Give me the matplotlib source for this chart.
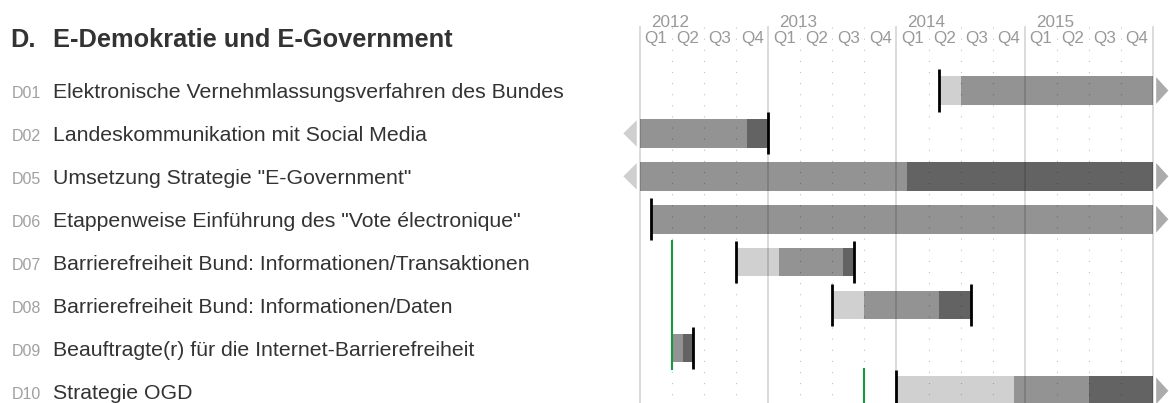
import matplotlib
matplotlib.use("Agg")
import matplotlib.pyplot as plt
from matplotlib.patches import Polygon
import matplotlib.transforms as mtransforms

plt.rcParams['font.family'] = ['Liberation Sans', 'DejaVu Sans']

title_code = "D."
title_text = "E-Demokratie und E-Government"
codes = ["D01", "D02", "D05", "D06", "D07", "D08", "D09", "D10"]
labels = ["Elektronische Vernehmlassungsverfahren des Bundes",
          "Landeskommunikation mit Social Media",
          "Umsetzung Strategie \"E-Government\"",
          "Etappenweise Einführung des \"Vote électronique\"",
          "Barrierefreiheit Bund: Informationen/Transaktionen",
          "Barrierefreiheit Bund: Informationen/Daten",
          "Beauftragte(r) für die Internet-Barrierefreiheit",
          "Strategie OGD"]
years = [2012, 2013, 2014, 2015]
quarters = ["Q1", "Q2", "Q3", "Q4"]

# segments per row: (start, end, phase) phase 0=light, 1=mid, 2=dark
segments = [
    [(2014.333, 2014.5, 0), (2014.5, 2016.0, 1)],
    [(2012.0, 2012.833, 1), (2012.833, 2013.0, 2)],
    [(2012.0, 2014.083, 1), (2014.083, 2016.0, 2)],
    [(2012.083, 2016.0, 1)],
    [(2012.75, 2013.083, 0), (2013.083, 2013.583, 1), (2013.583, 2013.667, 2)],
    [(2013.5, 2013.75, 0), (2013.75, 2014.333, 1), (2014.333, 2014.583, 2)],
    [(2012.25, 2012.333, 1), (2012.333, 2012.417, 2)],
    [(2014.0, 2014.917, 0), (2014.917, 2015.5, 1), (2015.5, 2016.0, 2)],
]
# black start/end markers
markers = [[2014.333], [2013.0], [], [2012.083], [2012.75, 2013.667],
           [2013.5, 2014.583], [2012.417], [2014.0]]
left_arrow = [False, True, True, False, False, False, False, False]
right_arrow = [True, False, True, True, False, False, False, True]
# green lines: x, first row, last row
green_x = [2012.25, 2013.75]
green_rows = [(4, 6), (7, 7)]

phase_colors = ["#d0d0d0", "#939393", "#636363"]

fig = plt.figure(figsize=(11.69, 4.03), dpi=100)
ax = fig.add_axes([620 / 1169, 0, 549 / 1169, 1])
ax.set_xlim(2011.844, 2016.125)
ax.set_ylim(7.284, -2.110)
ax.axis("off")

bh = 0.335
for i, segs in enumerate(segments):
    for s, e, p in segs:
        ax.fill_between([s, e], i - bh, i + bh, color=phase_colors[p], lw=0, zorder=2)
    if left_arrow[i]:
        s0 = segs[0][0]
        ax.add_patch(Polygon([(s0 - 0.025, i - 0.31), (s0 - 0.025, i + 0.31), (s0 - 0.13, i)],
                             closed=True, color="#cfcfcf", lw=0, zorder=2))
    if right_arrow[i]:
        e0 = segs[-1][1]
        ax.add_patch(Polygon([(e0 + 0.025, i - 0.31), (e0 + 0.025, i + 0.31), (e0 + 0.12, i)],
                             closed=True, color="#ababab", lw=0, zorder=2))
    for m in markers[i]:
        ax.plot([m, m], [i - 0.49, i + 0.49], color="black", lw=2, solid_capstyle="butt", zorder=4)

for gx, (r0, r1) in zip(green_x, green_rows):
    ax.plot([gx, gx], [r0 - 0.5, r1 + 0.5], color="#1a9641", lw=1.5, zorder=4)

# grid
grid_top = -1.487
for y in years + [2016]:
    ax.plot([y, y], [grid_top, 7.5], color="black", alpha=0.17, lw=1.2, zorder=3)
for y in years:
    for q in range(1, 4):
        ax.plot([y + q / 4, y + q / 4], [grid_top, 7.5], color="black", alpha=0.25,
                lw=0.8, ls=(0, (1, 9)), zorder=3)

for y in years:
    ax.text(y + 0.085, -1.473, str(y), color="#999999", fontsize=12.3, ha="left", va="baseline")
    for q, ql in enumerate(quarters):
        ax.text(y + q / 4 + 0.125, -1.119, ql, color="#999999", fontsize=12.3,
                ha="center", va="baseline")

trans = mtransforms.blended_transform_factory(fig.transFigure, ax.transData)
ax.text(10 / 1169, -1.007, title_code, transform=trans, fontsize=18.3, fontweight="bold",
        color="#333333", va="baseline", ha="left")
ax.text(53 / 1169, -1.007, title_text, transform=trans, fontsize=18.3, fontweight="bold",
        color="#333333", va="baseline", ha="left")
for i, (c, l) in enumerate(zip(codes, labels)):
    ax.text(12 / 1169, i + 0.185, c, transform=trans, fontsize=11.5, color="#a0a0a0",
            va="baseline", ha="left")
    ax.text(53 / 1169, i + 0.185, l, transform=trans, fontsize=15.27, color="#333333",
            va="baseline", ha="left")

fig.savefig("out.png", dpi=100)
